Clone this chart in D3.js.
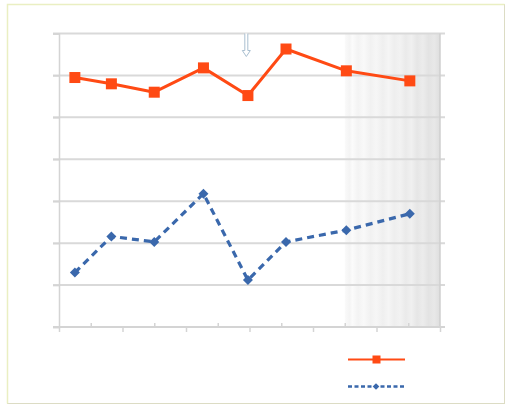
<!DOCTYPE html>
<html><head><meta charset="utf-8">
<script src="https://cdn.jsdelivr.net/npm/d3@7"></script>
<style>html,body{margin:0;padding:0;background:#fff;}svg{display:block;}</style>
</head><body>
<script>
// ---- data ----
const xPositions = [0.5, 1.65, 3.0, 4.55, 5.95, 7.15, 9.05, 11.05];
const seriesA = [5.95, 5.80, 5.60, 6.18, 5.52, 6.63, 6.11, 5.87];
const seriesB = [1.30, 2.16, 2.03, 3.18, 1.12, 2.03, 2.31, 2.70];
const yTicks = [0, 1, 2, 3, 4, 5, 6, 7];
const xMajorTicks = [0, 2, 4, 6, 8, 10, 12];
const xMinorTicks = [1, 3, 5, 7, 9, 11];
const shadeRange = [9, 12];
const arrowAt = 5.9;

const W = 513, H = 409;
const svg = d3.select("body").append("svg").attr("width", W).attr("height", H);

const x = d3.scaleLinear().domain([0, 12]).range([59, 440]);
const y = d3.scaleLinear().domain([0, 7]).range([327, 33.5]);

// outer frame
svg.append("rect").attr("x", 7.5).attr("y", 4.5).attr("width", 497).attr("height", 399)
  .attr("fill", "#fff").attr("stroke", "#dcdcc4").attr("stroke-width", 1);
svg.append("path").attr("d", "M7.5,403.5V4.5H504.5").attr("fill", "none")
  .attr("stroke", "#eaefc2").attr("stroke-width", 1.5);

// shaded striped region
const defs = svg.append("defs");
const grad = defs.append("linearGradient").attr("id", "shade").attr("x1", 0).attr("x2", 1).attr("y1", 0).attr("y2", 0);
const stripeStops = [
  [0, "#fafafa"], [0.05, "#f4f4f4"], [0.08, "#fbfbfb"], [0.14, "#f3f3f3"], [0.2, "#f9f9f9"],
  [0.27, "#f1f1f1"], [0.33, "#f6f6f6"], [0.4, "#efefef"], [0.46, "#f5f5f5"], [0.52, "#eeeeee"],
  [0.58, "#f2f2f2"], [0.64, "#eaeaea"], [0.7, "#f0f0f0"], [0.76, "#e6e6e6"], [0.82, "#ececec"],
  [0.88, "#e3e3e3"], [0.94, "#e8e8e8"], [1, "#dedede"]
];
stripeStops.forEach(s => grad.append("stop").attr("offset", s[0]).attr("stop-color", s[1]));
svg.append("rect")
  .attr("x", x(shadeRange[0])).attr("y", y(7))
  .attr("width", x(shadeRange[1]) - x(shadeRange[0])).attr("height", y(0) - y(7))
  .attr("fill", "url(#shade)");

// gridlines
svg.append("g").selectAll("line").data(yTicks.filter(d => d > 0)).join("line")
  .attr("x1", 53).attr("x2", 445).attr("y1", d => y(d)).attr("y2", d => y(d))
  .attr("stroke", "#d9d9d9").attr("stroke-width", 2);

// y axis
const yAxis = d3.axisLeft(y).tickValues(yTicks).tickSize(6).tickFormat("");
const gy = svg.append("g").attr("transform", "translate(59,0)").call(yAxis);
gy.selectAll("line").attr("stroke", "#d4d4d4").attr("stroke-width", 1.5);
gy.select(".domain").attr("stroke", "#d4d4d4").attr("stroke-width", 1.5);

// right edge line
svg.append("line").attr("x1", x(12)).attr("x2", x(12)).attr("y1", y(7)).attr("y2", y(0))
  .attr("stroke", "#cfcfcf").attr("stroke-width", 1.5);

// x axis
const xAxis = d3.axisBottom(x).tickValues(xMajorTicks).tickSize(5).tickSizeOuter(0).tickFormat("");
const gx = svg.append("g").attr("transform", `translate(0,${y(0)})`).call(xAxis);
gx.selectAll("line").attr("stroke", "#d4d4d4").attr("stroke-width", 1.5);
gx.select(".domain").attr("stroke", "#d4d4d4").attr("stroke-width", 2).attr("d", `M53,0H445`);
const xMinor = d3.axisTop(x).tickValues(xMinorTicks).tickSize(4).tickSizeOuter(0).tickFormat("");
const gxm = svg.append("g").attr("transform", `translate(0,${y(0)})`).call(xMinor);
gxm.select(".domain").remove();
gxm.selectAll("line").attr("stroke", "#d4d4d4").attr("stroke-width", 1.5);

// arrow glyph
const ax = x(arrowAt);
svg.append("path")
  .attr("d", `M${ax-1.5},${y(7)}V${y(7)+17}H${ax-4}L${ax},${y(7)+23}L${ax+4},${y(7)+17}H${ax+1.5}V${y(7)}`)
  .attr("fill", "#fff").attr("stroke", "#a9bfd0").attr("stroke-width", 1);

const line = d3.line().x((d, i) => x(xPositions[i])).y(d => y(d));

// series A (orange, squares)
const orange = "#ff4a14";
svg.append("path").datum(seriesA).attr("d", line)
  .attr("fill", "none").attr("stroke", orange).attr("stroke-width", 3).attr("stroke-linejoin", "round");
svg.append("g").selectAll("rect").data(seriesA).join("rect")
  .attr("x", (d, i) => x(xPositions[i]) - 5.5).attr("y", d => y(d) - 5.5)
  .attr("width", 11).attr("height", 11).attr("fill", orange);

// series B (blue, dashed, diamonds)
const blue = "#3a68ac";
svg.append("path").datum(seriesB).attr("d", line)
  .attr("fill", "none").attr("stroke", blue).attr("stroke-width", 3.2)
  .attr("stroke-dasharray", "7,5");
const diamond = d3.symbol().type(d3.symbolDiamond2).size(60);
svg.append("g").selectAll("path").data(seriesB).join("path")
  .attr("transform", (d, i) => `translate(${x(xPositions[i])},${y(d)}) rotate(0)`)
  .attr("d", d3.symbol().type(d3.symbolSquare).size(50))
  .attr("transform", (d, i) => `translate(${x(xPositions[i])},${y(d)}) rotate(45)`)
  .attr("fill", blue);

// legend
const lg = svg.append("g");
lg.append("line").attr("x1", 348).attr("x2", 405).attr("y1", 359.5).attr("y2", 359.5)
  .attr("stroke", orange).attr("stroke-width", 2.2);
lg.append("rect").attr("x", 376.5 - 4).attr("y", 359.5 - 4).attr("width", 8).attr("height", 8).attr("fill", orange);
lg.append("line").attr("x1", 348).attr("x2", 405).attr("y1", 386.5).attr("y2", 386.5)
  .attr("stroke", blue).attr("stroke-width", 2.4).attr("stroke-dasharray", "4,2.5");
lg.append("path").attr("d", d3.symbol().type(d3.symbolSquare).size(22))
  .attr("transform", "translate(376,386.5) rotate(45)").attr("fill", blue);
</script>
</body></html>
